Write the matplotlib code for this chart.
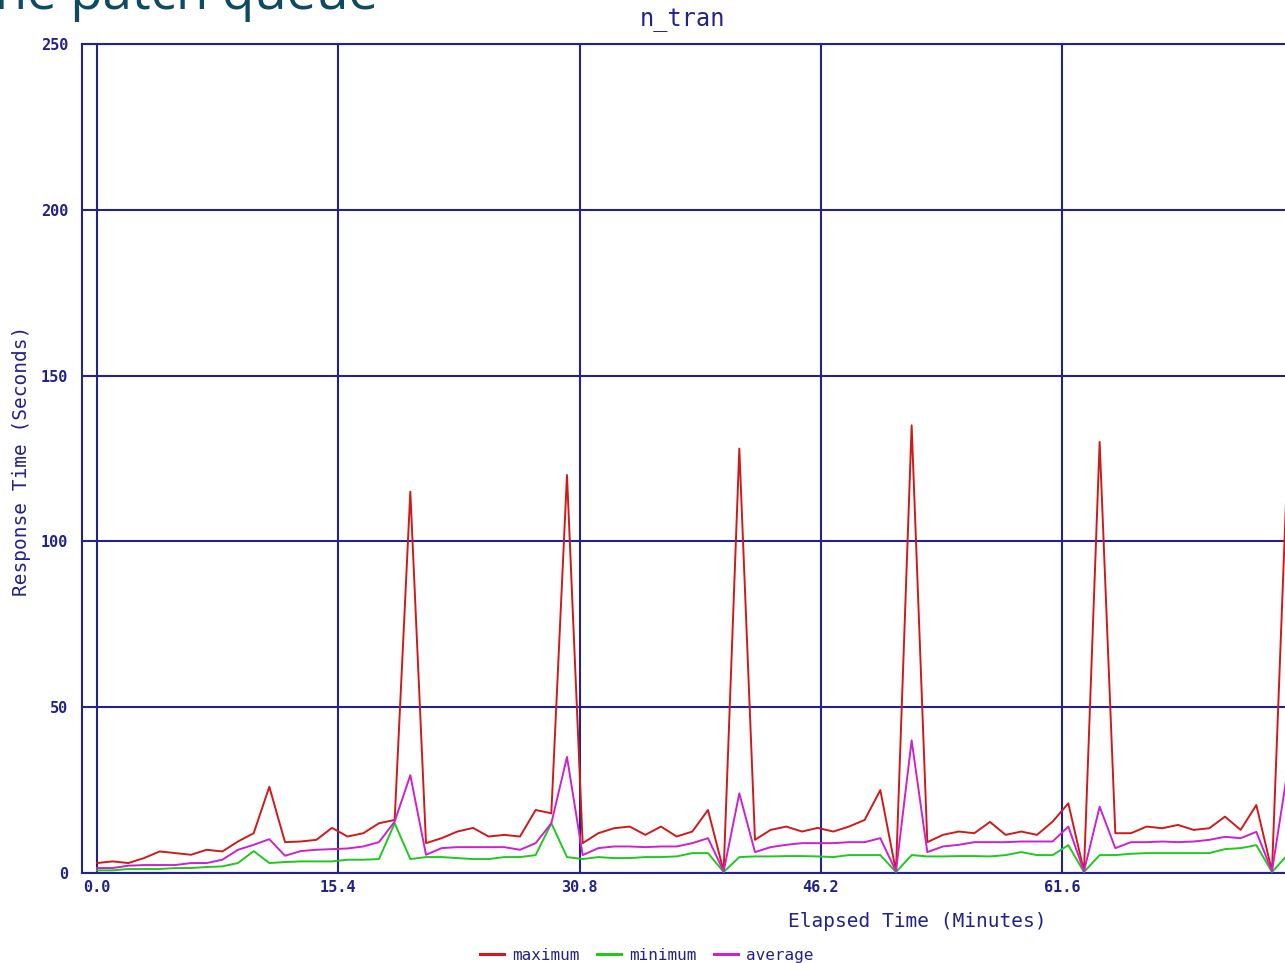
import matplotlib
matplotlib.use("Agg")
import matplotlib.pyplot as plt
from matplotlib.lines import Line2D

# ---- data ----
elapsed = [float(m) for m in range(77)]  # sample times, minutes

maximum = [3, 3.5, 3, 4.5, 6.5, 6, 5.5, 7, 6.5, 9.5,
           12, 26, 9.3, 9.5, 10, 13.6, 11, 12, 15, 16,
           115, 9, 10.5, 12.5, 13.6, 11, 11.5, 11, 19, 18,
           120, 9, 12, 13.5, 14, 11.5, 14, 11, 12.5, 19,
           0.5, 128, 10, 13, 14, 12.5, 13.6, 12.5, 14, 16,
           25, 0.5, 135, 9.3, 11.5, 12.5, 12, 15.4, 11.5, 12.5,
           11.5, 15.5, 21, 0.5, 130, 12, 12, 14, 13.5, 14.5,
           13, 13.5, 17, 13, 20.5, 0.5, 125]

minimum = [0.8, 0.8, 1.2, 1.2, 1.2, 1.5, 1.5, 1.8, 2, 3,
           6.6, 3, 3.3, 3.5, 3.5, 3.5, 4, 4, 4.2, 15,
           4.2, 4.8, 4.8, 4.5, 4.2, 4.2, 4.8, 4.8, 5.4, 15,
           4.8, 4.2, 4.8, 4.5, 4.5, 4.8, 4.8, 5, 6, 6,
           0.3, 4.8, 5, 5, 5.1, 5.1, 5, 4.8, 5.4, 5.4,
           5.4, 0.3, 5.4, 5, 5, 5.1, 5.1, 5, 5.4, 6.3,
           5.4, 5.4, 8.4, 0.3, 5.4, 5.4, 5.8, 6, 6, 6,
           6, 6, 7.2, 7.5, 8.4, 0.3, 5.5]

average = [1.5, 1.5, 2.2, 2.4, 2.4, 2.4, 3, 3, 4, 7,
           8.5, 10.2, 5.2, 6.6, 7, 7.2, 7.4, 8, 9.3, 15.5,
           29.5, 5.5, 7.5, 7.8, 7.8, 7.8, 7.8, 7, 9, 15,
           35, 5.4, 7.5, 8, 8, 7.8, 8, 8, 9, 10.5,
           0.5, 24, 6.3, 7.8, 8.5, 9, 9, 9, 9.3, 9.3,
           10.5, 0.5, 40, 6.3, 8, 8.5, 9.3, 9.3, 9.3, 9.5,
           9.5, 9.5, 14, 0.5, 20, 7.5, 9.3, 9.3, 9.5, 9.3,
           9.5, 10, 10.9, 10.5, 12.4, 0.5, 31]

series_names = ["maximum", "minimum", "average"]
x_ticks = [0.0, 15.4, 30.8, 46.2, 61.6, 77.0]
x_tick_labels = ["0.0", "15.4", "30.8", "46.2", "61.6", "77.0"]
y_ticks = [0, 50, 100, 150, 200, 250]
y_tick_labels = ["0", "50", "100", "150", "200", "250"]

# ---- style ----
W, H = 1285, 963
NAVY = "#23238e"
TXT = "#22228a"
RED = "#cf1a1a"
GREEN = "#20c820"
MAGENTA = "#cc22cc"
MONO = "DejaVu Sans Mono"

fig = plt.figure(figsize=(W / 100, H / 100), dpi=100)
fig.patch.set_facecolor("white")

left = 82 / W
right = 1318.3 / W
bottom = (H - 873) / H
top = (H - 44) / H
ax = fig.add_axes([left, bottom, right - left, top - bottom])

ax.plot(elapsed, maximum, color=RED, lw=1.4, label=series_names[0], zorder=3)
ax.plot(elapsed, minimum, color=GREEN, lw=1.4, label=series_names[1], zorder=3)
ax.plot(elapsed, average, color=MAGENTA, lw=1.4, label=series_names[2], zorder=3)

ax.set_xlim(-0.957, 77.957)
ax.set_ylim(0, 250)
ax.set_xticks(x_ticks)
ax.set_xticklabels(x_tick_labels)
ax.set_yticks(y_ticks)
ax.set_yticklabels(y_tick_labels)
ax.tick_params(length=0, colors=TXT, labelsize=11)
ax.tick_params(axis="y", pad=10)
ax.tick_params(axis="x", pad=5)
for lab in ax.get_xticklabels() + ax.get_yticklabels():
    lab.set_family(MONO)
    lab.set_fontweight("bold")
    lab.set_color(TXT)

ax.grid(True, color=NAVY, lw=1.5)
ax.set_axisbelow(True)
for s in ax.spines.values():
    s.set_color(NAVY)
    s.set_linewidth(1.5)

# titles and labels
fig.text(683 / W, 1 - 20 / H, "n_tran", ha="center", va="center",
         family=MONO, fontsize=17, color=TXT)
fig.text(917 / W, 1 - 921 / H, "Elapsed Time (Minutes)", ha="center", va="center",
         family=MONO, fontsize=14, color=TXT)
fig.text(22 / W, 1 - 461 / H, "Response Time (Seconds)", ha="center", va="center",
         rotation=90, family=MONO, fontsize=14, color=TXT)

# slide heading fragment, cut by the screenshot edge
fig.text(378 / W, 1 - 9 / H, "the patch queue", ha="right", va="baseline",
         family="Open Sans", fontsize=38, color="#0f4a60")

handles = [Line2D([], [], color=c, lw=2.2) for c in (RED, GREEN, MAGENTA)]
fig.legend(handles, series_names, loc="center",
           bbox_to_anchor=(647 / W, 1 - 955 / H), ncol=3, frameon=False,
           prop=dict(family=MONO, size=11.5), labelcolor=TXT,
           handlelength=1.5, handletextpad=0.5, columnspacing=1.1)

fig.savefig("out.png", dpi=100, facecolor="white")
